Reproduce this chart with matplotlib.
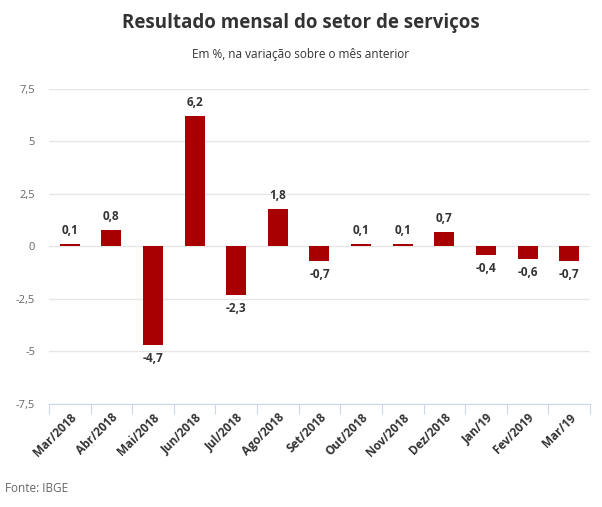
import matplotlib.pyplot as plt
from matplotlib.ticker import FuncFormatter

# Dados (IBGE)
meses = ['Mar/2018', 'Abr/2018', 'Mai/2018', 'Jun/2018', 'Jul/2018', 'Ago/2018',
         'Set/2018', 'Out/2018', 'Nov/2018', 'Dez/2018', 'Jan/19', 'Fev/2019', 'Mar/19']
variacao = [0.1, 0.8, -4.7, 6.2, -2.3, 1.8, -0.7, 0.1, 0.1, 0.7, -0.4, -0.6, -0.7]
yticks = [-7.5, -5, -2.5, 0, 2.5, 5, 7.5]

plt.rcParams['font.family'] = ['Open Sans', 'DejaVu Sans']

fig = plt.figure(figsize=(6.02, 5.07), dpi=100)
ax = fig.add_axes([0.0814, 0.2032, 0.8986, 0.6213])

x = list(range(len(meses)))
ax.bar(x, variacao, width=0.48, color='#a80000', zorder=3)

ax.set_xlim(-0.5, len(meses) - 0.5)
ax.set_ylim(-7.5, 7.5)
ax.set_yticks(yticks)
ax.yaxis.set_major_formatter(FuncFormatter(lambda v, p: ('%g' % v).replace('.', ',')))
ax.grid(axis='y', color='#e6e6e6', linewidth=1, zorder=0)

# rótulos de dados
for xi, v in zip(x, variacao):
    txt = ('%.1f' % v).replace('.', ',')
    if v >= 0:
        ax.annotate(txt, (xi, v), xytext=(0, 5), textcoords='offset points',
                    ha='center', va='bottom', fontsize=8.5, fontweight='bold', color='#333333')
    else:
        ax.annotate(txt, (xi, v), xytext=(0, -5), textcoords='offset points',
                    ha='center', va='top', fontsize=8.5, fontweight='bold', color='#333333')

for s in ['top', 'right', 'left']:
    ax.spines[s].set_visible(False)
ax.spines['bottom'].set_position(('data', -7.5))
ax.spines['bottom'].set_color('#ccd6eb')

# ticks nas fronteiras das categorias
ax.set_xticks([i - 0.5 for i in range(len(meses) + 1)], minor=False)
ax.set_xticklabels([])
ax.tick_params(axis='x', which='major', length=7, color='#ccd6eb', direction='out')
ax.set_xticks(x, minor=True)
ax.set_xticklabels(meses, minor=True, rotation=45, ha='right', rotation_mode='anchor',
                   fontsize=8.5, fontweight='bold', color='#333333')
ax.tick_params(axis='x', which='minor', length=0, pad=5)
ax.tick_params(axis='y', length=0, labelsize=8, labelcolor='#666666', pad=10)

fig.text(0.5, 0.955, 'Resultado mensal do setor de serviços', ha='center', va='center',
         fontsize=13.5, fontweight='bold', color='#333333')
fig.text(0.5, 0.892, 'Em %, na variação sobre o mês anterior', ha='center', va='center',
         fontsize=8.5, color='#333333')
fig.text(0.008, 0.037, 'Fonte: IBGE', ha='left', va='center', fontsize=8.5, color='#666666')

fig.savefig('out.png', dpi=100)
